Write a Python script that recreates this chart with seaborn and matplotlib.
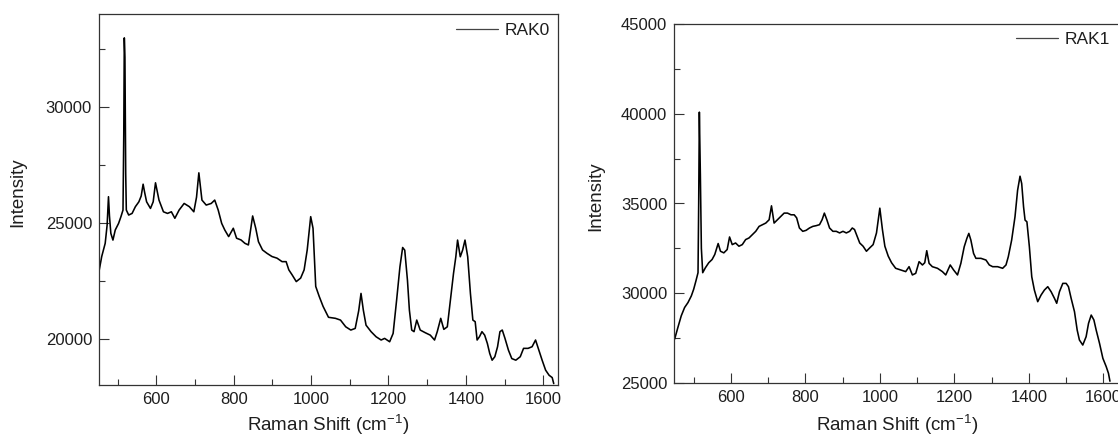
import matplotlib
matplotlib.use("Agg")
import matplotlib.pyplot as plt
from matplotlib.ticker import MultipleLocator
import seaborn as sns
import pandas as pd

# ---------------- data ----------------
rak0_shift = [452, 459, 468, 473, 476.5, 479, 482.6, 488, 494, 502.6, 508.7, 514, 516, 517.4, 519, 521,
              522.6, 528.7, 537.5, 546, 555, 561, 566, 570, 575, 585, 592, 598, 607, 618.5, 629, 639,
              648, 659, 672, 685.5, 697, 704, 710, 718, 729, 742, 751, 760, 769, 777, 787, 799, 807.5,
              819, 829, 838, 843, 849, 857, 864, 874.5, 886, 899, 912, 925, 935.5, 942.5, 951, 961.7,
              973, 982, 990, 999, 1005, 1012, 1021, 1031, 1045, 1063, 1076, 1089.5, 1102.6, 1114, 1123,
              1129, 1135, 1142, 1155, 1168, 1181, 1190, 1203, 1212, 1221, 1229.6, 1236.6, 1242, 1249,
              1254, 1260, 1266, 1273, 1282, 1295, 1308, 1319, 1326, 1335, 1343, 1352, 1359, 1368, 1374,
              1378.5, 1385.5, 1391.6, 1397.7, 1404.7, 1411.7, 1418, 1424, 1429, 1435, 1441.5, 1448.5,
              1455.5, 1461.6, 1467.8, 1474.8, 1481.8, 1488, 1494, 1501, 1510, 1518.6, 1529, 1540.5,
              1549, 1560.6, 1571, 1580, 1588.6, 1597, 1606, 1615, 1623, 1627]
rak0_int = [22900, 23540, 24110, 24900, 26120, 25300, 24540, 24250, 24685, 24970, 25260, 25545, 28800,
            32970, 32140, 27120, 25545, 25330, 25400, 25690, 25900, 26150, 26660, 26300, 25900, 25615,
            25900, 26720, 25975, 25470, 25400, 25470, 25190, 25545, 25830, 25690, 25470, 26100, 27150,
            25975, 25760, 25830, 25975, 25545, 24970, 24685, 24400, 24760, 24330, 24255, 24110, 24040,
            24600, 25290, 24760, 24180, 23825, 23680, 23540, 23470, 23320, 23320, 22965, 22750, 22460,
            22610, 22965, 23825, 25260, 24760, 22250, 21820, 21390, 20920, 20875, 20800, 20510, 20370,
            20440, 21200, 21950, 21230, 20580, 20300, 20080, 19940, 20010, 19865, 20225, 21660, 23100,
            23930, 23815, 22520, 21230, 20370, 20300, 20800, 20370, 20255, 20150, 19940, 20300, 20875,
            20400, 20510, 21520, 22810, 23530, 24250, 23530, 23820, 24250, 23530, 21950, 20800, 20730,
            19940, 20080, 20300, 20150, 19790, 19360, 19070, 19220, 19650, 20300, 20370, 20010, 19500,
            19140, 19070, 19220, 19580, 19580, 19650, 19940, 19500, 19070, 18640, 18420, 18320, 18060]

rak1_shift = [449, 457.7, 466.7, 475.7, 484.7, 493.7, 500, 506, 511.7, 513.5, 515.3, 518, 520.7, 524.3,
              531.5, 540.5, 549.5, 556.7, 565.8, 572, 581, 590, 596.4, 603.6, 612.6, 621.6, 630.6,
              639.6, 648.6, 657.7, 666.7, 675.7, 684.7, 693.7, 702.7, 709, 716, 725, 734, 743, 752,
              761.5, 770, 776.6, 784, 793, 802, 811, 820, 829, 838, 845, 851, 857.7, 865, 874, 883,
              892, 901, 910, 919, 926, 932, 939, 946, 955, 964, 973, 982, 991, 1000, 1007, 1013.5,
              1022.5, 1031.5, 1042.5, 1056, 1069.5, 1078.5, 1087.4, 1096.4, 1105.4, 1114.4, 1120.6,
              1126, 1132.3, 1141, 1154.8, 1168, 1177, 1189, 1198, 1208.6, 1217.6, 1226.6, 1233.7,
              1239, 1244.5, 1251.7, 1258, 1271.5, 1285, 1294, 1303, 1316.3, 1329.8, 1338.8, 1345,
              1354, 1363, 1370, 1376.5, 1381, 1386, 1390, 1395, 1401.6, 1408, 1415, 1424, 1433, 1442,
              1451, 1460, 1469, 1475, 1482.4, 1491.4, 1500.4, 1506.6, 1513.8, 1522.8, 1530, 1536,
              1545, 1554, 1560.5, 1567.7, 1574.9, 1581, 1590, 1599, 1608, 1614, 1618]
rak1_int = [27450, 28100, 28745, 29207, 29480, 29850, 30220, 30680, 31145, 35000, 40090, 36590, 32500,
            31145, 31420, 31700, 31880, 32160, 32770, 32340, 32250, 32435, 33135, 32710, 32800, 32620,
            32710, 32990, 33080, 33265, 33450, 33725, 33820, 33910, 34095, 34870, 33910, 34095, 34280,
            34465, 34465, 34370, 34370, 34200, 33635, 33450, 33505, 33635, 33725, 33765, 33820, 34100,
            34465, 34095, 33635, 33450, 33450, 33360, 33450, 33360, 33450, 33635, 33550, 33175, 32800,
            32620, 32340, 32530, 32710, 33360, 34740, 33540, 32620, 32070, 31700, 31390, 31300, 31205,
            31480, 31020, 31110, 31760, 31575, 31700, 32370, 31665, 31480, 31390, 31205, 31020, 31575,
            31300, 31020, 31665, 32590, 33055, 33335, 32960, 32220, 31945, 31945, 31850, 31575, 31480,
            31480, 31390, 31575, 32035, 32960, 34260, 35740, 36520, 36110, 34815, 34075, 33980, 32590,
            30920, 30180, 29530, 29900, 30180, 30365, 30085, 29715, 29440, 30085, 30550, 30550, 30365,
            29715, 28970, 27950, 27395, 27115, 27580, 28325, 28785, 28510, 27950, 27210, 26375, 25910,
            25540, 25100]

x_label = "Raman Shift (cm$^{-1}$)"
y_label = "Intensity"

# ---------------- style ----------------
sns.set_style("ticks")
plt.rcParams["font.family"] = ["Liberation Sans", "DejaVu Sans"]
plt.rcParams["mathtext.fontset"] = "custom"
plt.rcParams["mathtext.rm"] = "Liberation Sans"
plt.rcParams["mathtext.it"] = "Liberation Sans:italic"
plt.rcParams["mathtext.bf"] = "Liberation Sans:bold"

W, H = 1118, 440
fig = plt.figure(figsize=(W / 100, H / 100), dpi=100)

def px_axes(l, t, r, b):
    return fig.add_axes([l / W, 1 - b / H, (r - l) / W, (b - t) / H])

ax0 = px_axes(99, 14, 558, 385)
ax1 = px_axes(674.3, 24, 1120, 383)

text_c = "#1e1e1e"
spine_c = "#333333"

panels = [
    (ax0, rak0_shift, rak0_int, "RAK0", (452, 1638), (18000, 34000), (5000, 2500), (-0.158, 0.521), -0.074, (0.982, 0.955)),
    (ax1, rak1_shift, rak1_int, "RAK1", (448, 1645), (25000, 45000), (5000, 2500), (-0.158, 0.519), -0.082, (0.978, 0.957)),
]

for ax, xs, ys, name, xl, yl, (ymaj, ymin), ylc, xly, legpos in panels:
    df = pd.DataFrame({"shift": xs, "intensity": ys})
    sns.lineplot(data=df, x="shift", y="intensity", ax=ax, color="black", lw=1.15,
                 estimator=None, sort=False, label=name)
    ax.set_xlim(*xl)
    ax.set_ylim(*yl)
    ax.xaxis.set_major_locator(MultipleLocator(200))
    ax.xaxis.set_minor_locator(MultipleLocator(100))
    ax.yaxis.set_major_locator(MultipleLocator(ymaj))
    ax.yaxis.set_minor_locator(MultipleLocator(ymin))
    ax.tick_params(which="both", direction="in", top=False, right=False,
                   colors=spine_c, labelcolor=text_c, labelsize=12, width=0.8)
    ax.tick_params(which="major", length=7, pad=5)
    ax.tick_params(which="minor", length=4)
    for s in ax.spines.values():
        s.set_visible(True)
        s.set_color(spine_c)
        s.set_linewidth(0.9)
    ax.set_xlabel(x_label, fontsize=13.5, color=text_c)
    ax.set_ylabel(y_label, fontsize=13.5, color=text_c)
    ax.yaxis.set_label_coords(*ylc)
    ax.xaxis.set_label_coords(0.5, xly)
    leg = ax.legend(loc="center right", bbox_to_anchor=legpos, frameon=False,
                    fontsize=12.5, handlelength=2.4, handletextpad=0.4,
                    borderpad=0, borderaxespad=0)
    for t in leg.get_texts():
        t.set_color(text_c)
    for h in leg.legend_handles:
        h.set_linewidth(0.9)
        h.set_color("#444444")

fig.savefig("out.png", dpi=100)
